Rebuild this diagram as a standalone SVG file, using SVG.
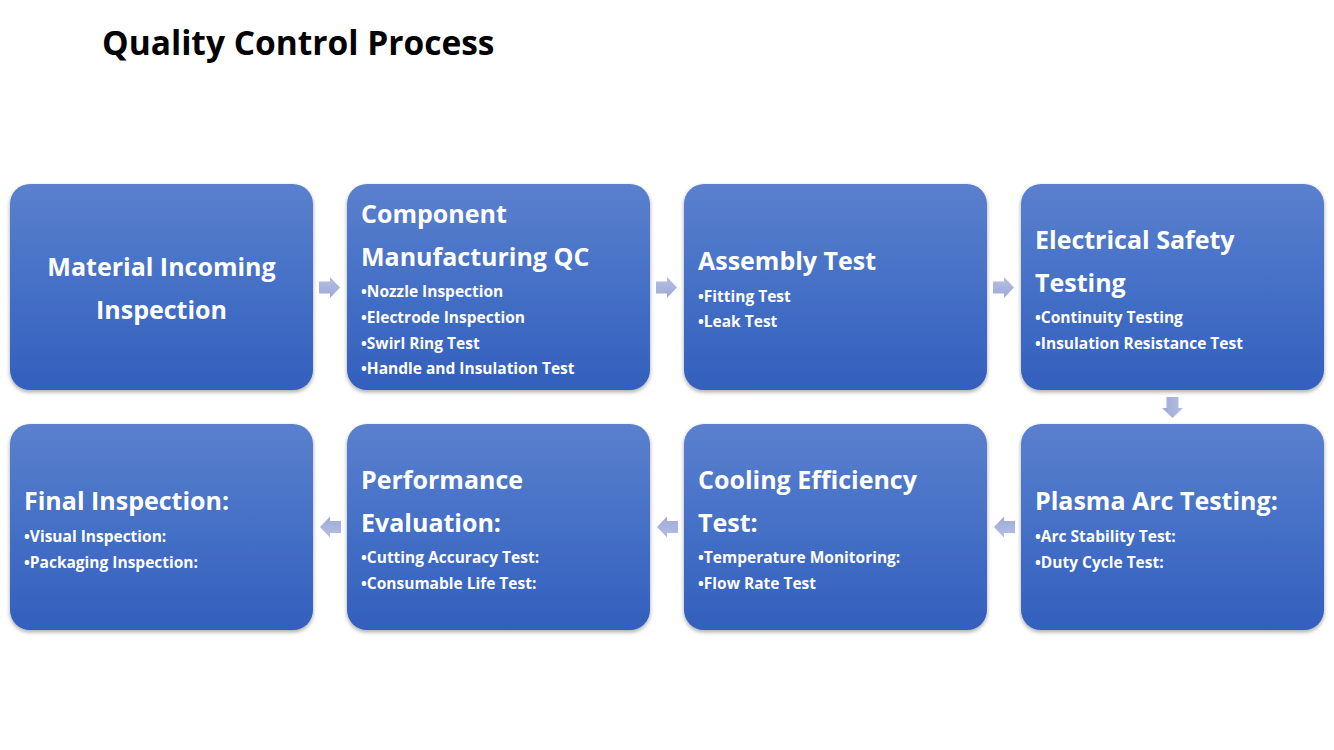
<svg xmlns="http://www.w3.org/2000/svg" width="1334" height="750" viewBox="0 0 1334 750">
<defs>
<linearGradient id="bg" x1="0" y1="0" x2="0" y2="1">
<stop offset="0" stop-color="#5b80ce"/>
<stop offset="0.5" stop-color="#4470c6"/>
<stop offset="1" stop-color="#335fbd"/>
</linearGradient>
<linearGradient id="ag" x1="0" y1="0" x2="0" y2="1">
<stop offset="0" stop-color="#b4bee3"/>
<stop offset="1" stop-color="#9ea9d8"/>
</linearGradient>
<filter id="sh" x="-5%" y="-5%" width="110%" height="115%">
<feGaussianBlur in="SourceAlpha" stdDeviation="2"/>
<feOffset dy="2" result="b"/>
<feComponentTransfer><feFuncA type="linear" slope="0.35"/></feComponentTransfer>
<feMerge><feMergeNode/><feMergeNode in="SourceGraphic"/></feMerge>
</filter>
<path id="arr" d="M0,-6 H11 V-10.5 L21,0 L11,10.5 V6 H0 Z"/>
</defs>
<style>
.box{fill:url(#bg);filter:url(#sh)}
.h{font-family:"Open Sans","Noto Sans",sans-serif;font-weight:700;font-size:25px;fill:#ffffff}
.b{font-family:"Open Sans","Noto Sans",sans-serif;font-weight:700;font-size:15.5px;fill:#ffffff}
.t{font-family:"Open Sans","Noto Sans",sans-serif;font-weight:700;font-size:33.5px;fill:#000000}
.a{fill:url(#ag)}
</style>
<rect width="1334" height="750" fill="#ffffff"/>
<text class="t" x="102" y="55">Quality Control Process</text>

<g id="connectors">
<use href="#arr" class="a" x="319" y="287.5"/>
<use href="#arr" class="a" x="656" y="287.5"/>
<use href="#arr" class="a" x="993" y="287.5"/>
<use href="#arr" class="a" transform="translate(1172.5,397) rotate(90)"/>
<use href="#arr" class="a" transform="translate(1015,527) rotate(180)"/>
<use href="#arr" class="a" transform="translate(678,527) rotate(180)"/>
<use href="#arr" class="a" transform="translate(341,527) rotate(180)"/>
</g>

<g id="node1">
<rect class="box" x="10" y="184" width="303" height="206" rx="20"/>
<text class="h" x="161.5" y="276" text-anchor="middle">Material Incoming</text>
<text class="h" x="161.5" y="319" text-anchor="middle">Inspection</text>
</g>
<g id="node2">
<rect class="box" x="347" y="184" width="303" height="206" rx="20"/>
<text class="h" x="361" y="223">Component</text>
<text class="h" x="361" y="266">Manufacturing QC</text>
<text class="b" x="361" y="297">•Nozzle Inspection</text>
<text class="b" x="361" y="323">•Electrode Inspection</text>
<text class="b" x="361" y="348.5">•Swirl Ring Test</text>
<text class="b" x="361" y="374">•Handle and Insulation Test</text>
</g>
<g id="node3">
<rect class="box" x="684" y="184" width="303" height="206" rx="20"/>
<text class="h" x="698" y="270">Assembly Test</text>
<text class="b" x="698" y="302">•Fitting Test</text>
<text class="b" x="698" y="327">•Leak Test</text>
</g>
<g id="node4">
<rect class="box" x="1021" y="184" width="303" height="206" rx="20"/>
<text class="h" x="1035" y="249">Electrical Safety</text>
<text class="h" x="1035" y="292">Testing</text>
<text class="b" x="1035" y="323">•Continuity Testing</text>
<text class="b" x="1035" y="348.5">•Insulation Resistance Test</text>
</g>
<g id="node5">
<rect class="box" x="1021" y="424" width="303" height="206" rx="20"/>
<text class="h" x="1035" y="510">Plasma Arc Testing:</text>
<text class="b" x="1035" y="541.5">•Arc Stability Test:</text>
<text class="b" x="1035" y="567.5">•Duty Cycle Test:</text>
</g>
<g id="node6">
<rect class="box" x="684" y="424" width="303" height="206" rx="20"/>
<text class="h" x="698" y="489">Cooling Efficiency</text>
<text class="h" x="698" y="532">Test:</text>
<text class="b" x="698" y="562.5">•Temperature Monitoring:</text>
<text class="b" x="698" y="588.5">•Flow Rate Test</text>
</g>
<g id="node7">
<rect class="box" x="347" y="424" width="303" height="206" rx="20"/>
<text class="h" x="361" y="489">Performance</text>
<text class="h" x="361" y="532">Evaluation:</text>
<text class="b" x="361" y="562.5">•Cutting Accuracy Test:</text>
<text class="b" x="361" y="588.5">•Consumable Life Test:</text>
</g>
<g id="node8">
<rect class="box" x="10" y="424" width="303" height="206" rx="20"/>
<text class="h" x="24" y="510">Final Inspection:</text>
<text class="b" x="24" y="541.5">•Visual Inspection:</text>
<text class="b" x="24" y="567.5">•Packaging Inspection:</text>
</g>
</svg>
